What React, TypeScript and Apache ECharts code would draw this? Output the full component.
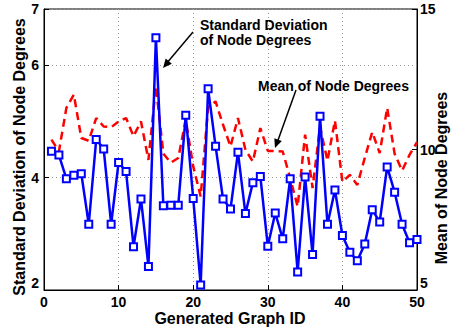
import React, { useEffect, useRef } from "react";
import * as echarts from "echarts";

const graphIds: number[] = Array.from({ length: 50 }, (_, i) => i + 1);

const stdDegrees: number[] = [
  4.47, 4.4, 3.98, 4.04, 4.07, 3.17, 4.68, 4.51, 3.17, 4.27,
  4.11, 2.77, 3.62, 2.42, 6.49, 3.5, 3.51, 3.51, 5.11, 3.63,
  2.09, 5.58, 4.56, 3.62, 3.44, 4.45, 3.36, 3.91, 4.02, 2.78,
  3.37, 2.91, 3.98, 2.32, 4.01, 2.63, 5.09, 3.17, 3.78, 2.97,
  2.67, 2.52, 2.82, 3.43, 3.21, 4.19, 3.74, 3.17, 2.84, 2.9,
];

const meanDegrees: number[] = [
  10.35, 9.93, 11.48, 11.95, 10.41, 10.31, 11.12, 10.82, 10.79, 11.0,
  11.12, 10.47, 11.0, 9.63, 12.25, 9.85, 9.53, 9.7, 11.06, 9.4,
  8.33, 11.5, 11.71, 10.88, 10.11, 11.12, 9.99, 9.57, 10.76, 9.95,
  9.95, 9.93, 8.98, 7.97, 10.53, 8.63, 10.8, 9.6, 11.03, 8.85,
  9.1, 8.74, 9.7, 10.62, 9.87, 11.48, 9.85, 9.25, 9.81, 10.26,
];

const FONT = "'Liberation Sans', Arial, Helvetica, sans-serif";

function arrowHead(tx: number, ty: number, fx: number, fy: number, len = 9, half = 4) {
  const dx = tx - fx;
  const dy = ty - fy;
  const l = Math.sqrt(dx * dx + dy * dy);
  const ux = dx / l;
  const uy = dy / l;
  const bx = tx - ux * len;
  const by = ty - uy * len;
  const px = -uy * half;
  const py = ux * half;
  return [
    [tx, ty],
    [bx + px, by + py],
    [bx - px, by - py],
  ];
}

export default function App() {
  const ref = useRef<HTMLDivElement>(null);

  useEffect(() => {
    if (!ref.current) return;
    const chart = echarts.init(ref.current, null, { renderer: "svg" });
    const axisText = { color: "#000", fontWeight: "bold" as const, fontSize: 14, fontFamily: FONT };

    const option: any = {
      animation: false,
      backgroundColor: "#fff",
      textStyle: { fontFamily: FONT },
      grid: {
        left: 44,
        right: 34,
        top: 9,
        bottom: 43,
        show: true,
        borderColor: "#000",
        borderWidth: 1,
        backgroundColor: "transparent",
      },
      xAxis: {
        type: "value",
        min: 0,
        max: 50,
        interval: 10,
        axisLine: { show: true, lineStyle: { color: "#000", width: 1 } },
        axisTick: { show: true, inside: true, length: 5, lineStyle: { color: "#000" } },
        axisLabel: { ...axisText, margin: 5 },
        splitLine: { show: true, lineStyle: { color: "#999", type: [1, 3], width: 1 } },
      },
      yAxis: [
        {
          type: "value",
          min: 2,
          max: 7,
          interval: 2,
          axisLine: { show: true, lineStyle: { color: "#000", width: 1 } },
          axisTick: { show: true, inside: true, length: 5, lineStyle: { color: "#000" } },
          axisLabel: { ...axisText, margin: 5, verticalAlignMinLabel: "bottom" },
          splitLine: { show: true, lineStyle: { color: "#999", type: [1, 3], width: 1 } },
        },
        {
          type: "value",
          min: 5,
          max: 15,
          interval: 5,
          position: "right",
          axisLine: { show: true, lineStyle: { color: "#000", width: 1 } },
          axisTick: { show: true, inside: true, length: 5, lineStyle: { color: "#000" } },
          axisLabel: { ...axisText, margin: 3, verticalAlignMinLabel: "bottom" },
          splitLine: { show: false },
        },
      ],
      series: [
        {
          name: "Mean of Node Degrees",
          type: "line",
          yAxisIndex: 1,
          data: graphIds.map((id, i) => [id, meanDegrees[i]]),
          showSymbol: false,
          symbol: "none",
          lineStyle: { color: "#ff0000", width: 2.5, type: [8, 5] },
          z: 2,
        },
        {
          name: "Standard Deviation of Node Degrees",
          type: "line",
          yAxisIndex: 0,
          data: graphIds.map((id, i) => [id, stdDegrees[i]]),
          symbol: "emptyRect",
          symbolSize: 7,
          itemStyle: { color: "#0000ff", borderColor: "#0000ff", borderWidth: 2.2 },
          lineStyle: { color: "#0000ff", width: 2.5 },
          z: 3,
        },
      ],
      graphic: [
        {
          type: "text",
          x: 19,
          y: 157,
          rotation: Math.PI / 2,
          style: {
            text: "Standard Deviation of Node Degrees",
            fill: "#000",
            font: `bold 16px ${FONT}`,
            textAlign: "center",
            textVerticalAlign: "middle",
          },
        },
        {
          type: "text",
          x: 441,
          y: 178,
          rotation: Math.PI / 2,
          style: {
            text: "Mean of Node Degrees",
            fill: "#000",
            font: `bold 16px ${FONT}`,
            textAlign: "center",
            textVerticalAlign: "middle",
          },
        },
        {
          type: "text",
          x: 230,
          y: 318,
          style: {
            text: "Generated Graph ID",
            fill: "#000",
            font: `bold 16px ${FONT}`,
            textAlign: "center",
            textVerticalAlign: "middle",
          },
        },
        {
          type: "text",
          x: 200,
          y: 25,
          style: {
            text: "Standard Deviation",
            fill: "#000",
            font: `bold 14px ${FONT}`,
            textAlign: "left",
            textVerticalAlign: "middle",
          },
        },
        {
          type: "text",
          x: 200,
          y: 40,
          style: {
            text: "of Node Degrees",
            fill: "#000",
            font: `bold 14px ${FONT}`,
            textAlign: "left",
            textVerticalAlign: "middle",
          },
        },
        {
          type: "text",
          x: 258,
          y: 86,
          style: {
            text: "Mean of Node Degrees",
            fill: "#000",
            font: `bold 14px ${FONT}`,
            textAlign: "left",
            textVerticalAlign: "middle",
          },
        },
        {
          type: "line",
          shape: { x1: 193, y1: 32, x2: 166, y2: 64 },
          style: { stroke: "#000", lineWidth: 1.5 },
          z: 10,
        },
        {
          type: "polygon",
          shape: { points: arrowHead(163, 68, 193, 32) },
          style: { fill: "#000" },
          z: 10,
        },
        {
          type: "line",
          shape: { x1: 296, y1: 90, x2: 277, y2: 143 },
          style: { stroke: "#000", lineWidth: 1.5 },
          z: 10,
        },
        {
          type: "polygon",
          shape: { points: arrowHead(275, 148, 296, 90) },
          style: { fill: "#000" },
          z: 10,
        },
      ],
    };

    chart.setOption(option);
    return () => chart.dispose();
  }, []);

  return (
    <div
      ref={ref}
      style={{ position: "fixed", left: 0, top: 0, width: 451, height: 333 }}
    />
  );
}
